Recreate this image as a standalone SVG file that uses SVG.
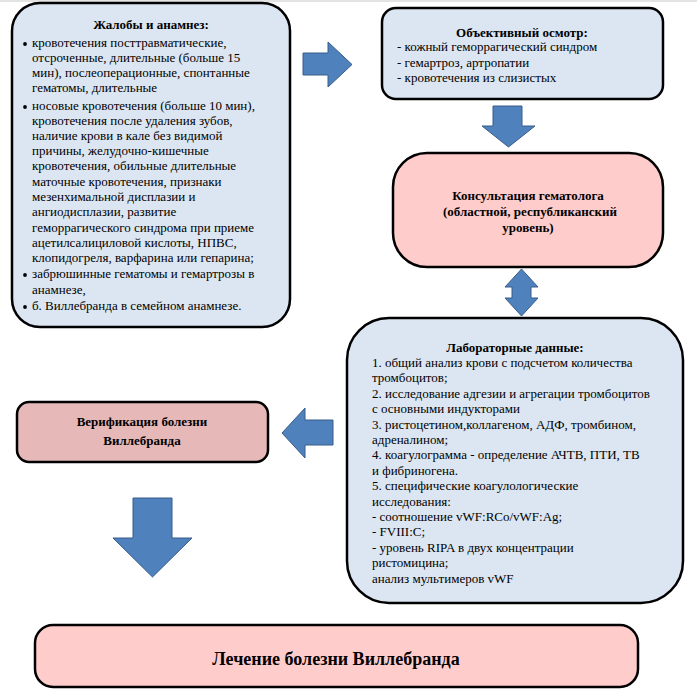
<svg xmlns="http://www.w3.org/2000/svg" width="697" height="692" viewBox="0 0 697 692">
<style>
text{font-family:"Liberation Serif","Times New Roman","DejaVu Serif",serif;font-size:13px;fill:#000}
.b{font-weight:bold}
.c{text-anchor:middle}
.box{stroke:#000;stroke-width:2.5}
.blue{fill:#dce6f2}
.pink{fill:#ffcccc}
.rose{fill:#e6b9b8}
.arr{fill:#4f81bd;stroke:#385d8a;stroke-width:1;stroke-linejoin:miter}
</style>
<rect x="0" y="0" width="697" height="692" fill="#fff"/>
<rect x="0" y="0" width="697" height="2" fill="#e3e3e3"/>
<g id="complaints">
<rect class="box blue" x="12" y="3" width="278" height="324" rx="28"/>
<text class="b c" x="151" y="29">Жалобы и анамнез:</text>
<circle cx="25" cy="44" r="1.9"/>
<text x="32" y="47">кровотечения посттравматические,</text>
<text x="32" y="62">отсроченные, длительные (больше 15</text>
<text x="32" y="77">мин), послеоперационные, спонтанные</text>
<text x="32" y="92">гематомы, длительные</text>
<circle cx="25" cy="107" r="1.9"/>
<text x="32" y="110">носовые кровотечения (больше 10 мин),</text>
<text x="32" y="125">кровотечения после удаления зубов,</text>
<text x="32" y="140">наличие крови в кале без видимой</text>
<text x="32" y="155">причины, желудочно-кишечные</text>
<text x="32" y="170">кровотечения, обильные длительные</text>
<text x="32" y="186">маточные кровотечения, признаки</text>
<text x="32" y="201">мезенхимальной дисплазии и</text>
<text x="32" y="216">ангиодисплазии, развитие</text>
<text x="32" y="232">геморрагического синдрома при приеме</text>
<text x="32" y="247">ацетилсалициловой кислоты, НПВС,</text>
<text x="32" y="262">клопидогреля, варфарина или гепарина;</text>
<circle cx="25" cy="275" r="1.9"/>
<text x="32" y="278">забрюшинные гематомы и гемартрозы в</text>
<text x="32" y="294">анамнезе,</text>
<circle cx="25" cy="307" r="1.9"/>
<text x="32" y="310">б. Виллебранда в семейном анамнезе.</text>
</g>
<g id="exam">
<rect class="box blue" x="382" y="8" width="281" height="91" rx="14"/>
<text class="b c" x="522" y="37">Объективный осмотр:</text>
<text x="397" y="51">- кожный геморрагический синдром</text>
<text x="397" y="66.5">- гемартроз, артропатии</text>
<text x="397" y="82">- кровотечения из слизистых</text>
</g>
<g id="consult">
<rect class="box pink" x="393" y="153" width="270" height="114" rx="34"/>
<text class="b c" x="528" y="200">Консультация гематолога</text>
<text class="b c" x="530" y="216">(областной, республиканский</text>
<text class="b c" x="528" y="232">уровень)</text>
</g>
<g id="lab">
<rect class="box blue" x="347" y="318" width="336" height="285" rx="42"/>
<text class="b c" x="515" y="352">Лабораторные данные:</text>
<text x="372" y="367">1. общий анализ крови с подсчетом количества</text>
<text x="372" y="382.4">тромбоцитов;</text>
<text x="372" y="397.8">2. исследование адгезии и агрегации тромбоцитов</text>
<text x="372" y="413.2">с основными индукторами</text>
<text x="372" y="428.6">3. ристоцетином,коллагеном, АДФ, тромбином,</text>
<text x="372" y="444">адреналином;</text>
<text x="372" y="459.4">4. коагулограмма - определение АЧТВ, ПТИ, ТВ</text>
<text x="372" y="474.8">и фибриногена.</text>
<text x="372" y="490.2">5. специфические коагулологические</text>
<text x="372" y="505.6">исследования:</text>
<text x="372" y="521">- соотношение vWF:RCo/vWF:Ag;</text>
<text x="372" y="536.4">- FVIII:C;</text>
<text x="372" y="551.8">- уровень RIPA в двух концентрации</text>
<text x="372" y="567.2">ристомицина;</text>
<text x="372" y="582.6">анализ мультимеров vWF</text>
</g>
<g id="verification">
<rect class="box rose" x="17" y="402" width="251" height="60" rx="12"/>
<text class="b c" x="142" y="426">Верификация болезни</text>
<text class="b c" x="142" y="445">Виллебранда</text>
</g>
<g id="treatment">
<rect class="box pink" x="35" y="625" width="603" height="62" rx="18"/>
<text class="b c" x="336" y="665" style="font-size:18px">Лечение болезни Виллебранда</text>
</g>
<g id="connectors">
<polygon class="arr" points="303,53 328,53 328,42 352,64.5 328,87 328,75 303,75"/>
<polygon class="arr" points="493,106 522,106 522,126 535,126 508.5,147 482,126 493,126"/>
<polygon class="arr" points="521.5,269 538,287 531,287 531,298 538,298 521.5,316 505,298 512,298 512,287 505,287"/>
<polygon class="arr" points="333,420 305,420 305,408 282,433 305,458 305,445 333,445"/>
<polygon class="arr" points="133,498 172,498 172,538 192,538 152.5,577 113,538 133,538"/>
</g>
</svg>
